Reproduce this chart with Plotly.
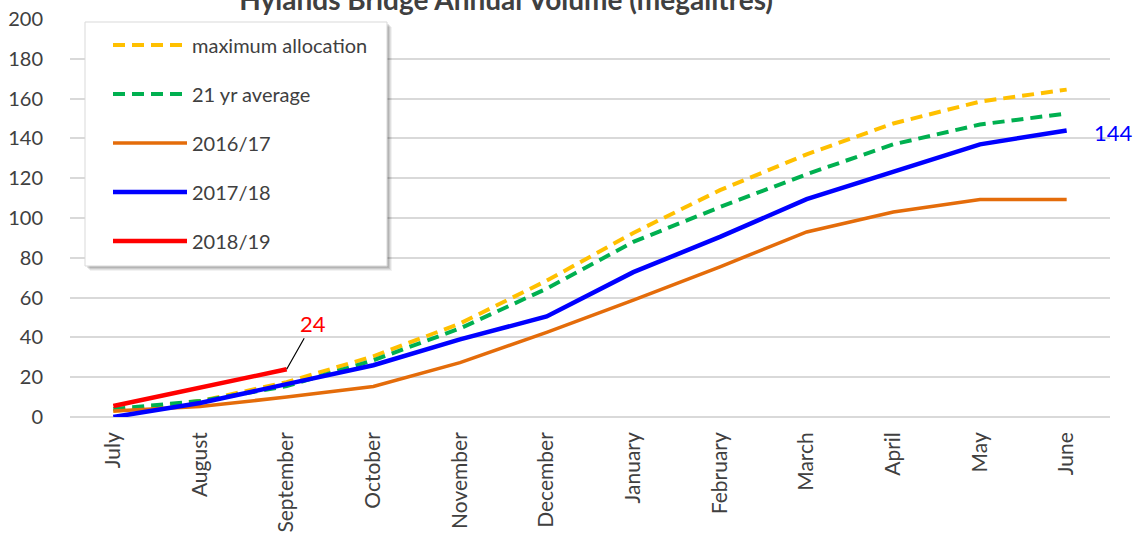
import plotly.graph_objects as go

# Monthly cumulative volumes (megalitres), water year July - June
months = ["July", "August", "September", "October", "November", "December",
          "January", "February", "March", "April", "May", "June"]
max_allocation = [3, 8, 17.5, 30.5, 47, 68.5, 92.5, 114, 132, 147.5, 158.5, 164.5]
avg_21yr = [4, 8, 15.5, 28.5, 44.5, 64.5, 88, 105.5, 122, 137, 147, 152.5]
vol_2016_17 = [3, 5.3, 10, 15.3, 27.3, 42.5, 58.7, 75.5, 93, 103, 109.3, 109.3]
vol_2017_18 = [0, 7, 16.5, 26, 39, 50.5, 72.8, 90.5, 109.5, 123, 137, 144]
vol_2018_19 = [5.5, 15, 24]

FONT = "Lato"
TXT = "#404040"
W, H = 1140, 538
ML, MR, MT, MB = 70, 30, 19, 121
PW, PH = W - ML - MR, H - MT - MB


def px_x(px):
    return (px - ML) / PW


def px_y(py):
    return (H - MB - py) / PH


series = [
    ("maximum allocation", max_allocation, "#FFC000", 4, "12px,7px"),
    ("21 yr average", avg_21yr, "#00B050", 4, "12px,7px"),
    ("2016/17", vol_2016_17, "#E46C0A", 3.5, "solid"),
    ("2017/18", vol_2017_18, "#0000FF", 4.5, "solid"),
    ("2018/19", vol_2018_19, "#FF0000", 4.5, "solid"),
]

fig = go.Figure()
for name, vals, color, width, dash in series:
    fig.add_trace(go.Scatter(
        x=months[:len(vals)], y=vals, name=name, mode="lines",
        legendgroup=name,
        line=dict(color=color, width=width, dash=dash),
        hoverinfo="skip",
    ))

# value callouts
fig.add_annotation(x=months[len(vol_2018_19) - 1], y=vol_2018_19[-1],
                   text=str(vol_2018_19[-1]), showarrow=True, arrowhead=0,
                   arrowwidth=1.2, arrowcolor="#000000", ax=26, ay=-46,
                   standoff=0, font=dict(family=FONT, size=22, color="#FF0000"))
fig.add_annotation(x=months[-1], y=vol_2017_18[-1], text=str(vol_2017_18[-1]),
                   showarrow=False, xshift=47, yshift=-2,
                   font=dict(family=FONT, size=22, color="#0000FF"))

# legend panel with a soft drop shadow
box = (85, 22, 387, 266)
shapes = []
for off, alpha in [(5, 0.05), (4, 0.07), (3, 0.09), (2, 0.11)]:
    shapes.append(dict(type="rect", xref="paper", yref="paper", layer="above",
                       x0=px_x(box[0] + off), x1=px_x(box[2] + off),
                       y0=px_y(box[3] + off), y1=px_y(box[1] + off),
                       fillcolor=f"rgba(0,0,0,{alpha})", line=dict(width=0)))
shapes.append(dict(type="rect", xref="paper", yref="paper", layer="above",
                   x0=px_x(box[0]), x1=px_x(box[2]),
                   y0=px_y(box[3]), y1=px_y(box[1]),
                   fillcolor="white", line=dict(color="#D9D9D9", width=1)))

fig.update_layout(
    width=W, height=H,
    margin=dict(l=ML, r=MR, t=MT, b=MB, autoexpand=False),
    paper_bgcolor="white", plot_bgcolor="white",
    font=dict(family=FONT, color=TXT),
    title=dict(text="<b>Hylands Bridge Annual Volume (megalitres)</b>",
               x=0.444, xanchor="center", y=1.0, yanchor="middle",
               font=dict(family=FONT, size=28, color=TXT)),
    showlegend=True,
    legend=dict(x=px_x(108), y=px_y(25.5), xanchor="left", yanchor="top",
                bgcolor="rgba(0,0,0,0)", borderwidth=0,
                font=dict(family=FONT, size=20, color=TXT),
                itemwidth=74, tracegroupgap=20, traceorder="grouped"),
    shapes=shapes,
)
fig.update_xaxes(type="category", range=[-0.5, 11.5], tickangle=-90,
                 showgrid=False, showline=False, ticks="", automargin=False,
                 tickfont=dict(family=FONT, size=21, color=TXT),
                 ticklabelstandoff=10)
fig.update_yaxes(range=[0, 200], dtick=20, showgrid=True, gridcolor="#D9D9D9",
                 gridwidth=1.5, zeroline=True, zerolinecolor="#D9D9D9",
                 zerolinewidth=1.5, showline=False, ticks="", automargin=False,
                 tickfont=dict(family=FONT, size=20, color=TXT),
                 ticklabelstandoff=26)

fig.write_html("out.html")
